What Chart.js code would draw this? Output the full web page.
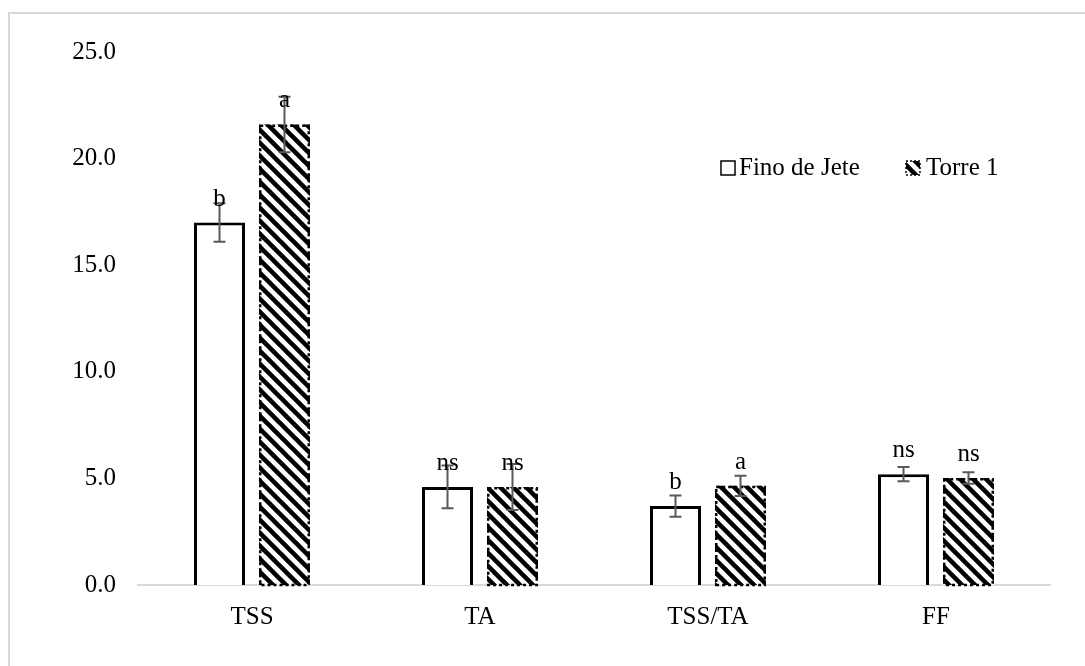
<!DOCTYPE html>
<html>
<head>
<meta charset="utf-8">
<script src="https://cdn.jsdelivr.net/npm/chart.js@4/dist/chart.umd.min.js"></script>
<style>
  html, body { margin: 0; padding: 0; background: #fff; overflow: hidden; }
  #chart { display: block; }
</style>
</head>
<body>
<canvas id="chart" width="1085" height="666"></canvas>
<script>
// 데이터
const categories = ['TSS', 'TA', 'TSS/TA', 'FF'];
const seriesNames = ['Fino de Jete', 'Torre 1'];
const finoValues = [17.0, 4.6, 3.7, 5.2];
const torreValues = [21.6, 4.6, 4.65, 5.02];
const finoErrors = [0.9, 1.0, 0.5, 0.33];
const torreErrors = [1.3, 1.08, 0.48, 0.27];
const finoLetters = ['b', 'ns', 'b', 'ns'];
const torreLetters = ['a', 'ns', 'a', 'ns'];
const yTicks = [0, 5, 10, 15, 20, 25];

const FONT = '"Liberation Serif", "Times New Roman", serif';
const FONT_SIZE = 25;

// 빗금 패턴
function makeHatch() {
    const s = 13;
    const c = document.createElement('canvas');
    c.width = s; c.height = s;
    const g = c.getContext('2d');
    g.fillStyle = '#fff';
    g.fillRect(0, 0, s, s);
    g.strokeStyle = '#000';
    g.lineWidth = 4.5;
    for (let k = -1; k <= 1; k++) {
        g.beginPath();
        g.moveTo(k * s - 2, -2);
        g.lineTo(k * s + s + 2, s + 2);
        g.stroke();
    }
    return document.getElementById('chart').getContext('2d').createPattern(c, 'repeat');
}
const hatch = makeHatch();

// 바깥 테두리
const framePlugin = {
    id: 'frame',
    beforeDraw(chart) {
        const ctx = chart.ctx;
        ctx.save();
        ctx.strokeStyle = '#d9d9d9';
        ctx.lineWidth = 2;
        ctx.strokeRect(9, 13, 2000, 2000);
        ctx.restore();
    }
};

// 점선 테두리, 오차 막대, 문자 표시
const extrasPlugin = {
    id: 'extras',
    afterDatasetsDraw(chart) {
        const ctx = chart.ctx;
        const y = chart.scales.y;
        const errs = [finoErrors, torreErrors];
        const vals = [finoValues, torreValues];
        const letters = [finoLetters, torreLetters];

        // Torre 1 점선 테두리
        const torreMeta = chart.getDatasetMeta(1);
        ctx.save();
        ctx.strokeStyle = '#000';
        ctx.lineWidth = 2.5;
        ctx.setLineDash([3, 3]);
        torreMeta.data.forEach(el => {
            const left = el.x - el.width / 2;
            ctx.strokeRect(left + 1.25, el.y + 1.25, el.width - 2.5, el.base - el.y - 1.25);
        });
        ctx.restore();

        // 오차 막대
        ctx.save();
        ctx.strokeStyle = '#595959';
        ctx.lineWidth = 2;
        [0, 1].forEach(d => {
            chart.getDatasetMeta(d).data.forEach((el, i) => {
                const top = y.getPixelForValue(vals[d][i] + errs[d][i]);
                const bot = y.getPixelForValue(vals[d][i] - errs[d][i]);
                ctx.beginPath();
                ctx.moveTo(el.x, top); ctx.lineTo(el.x, bot);
                ctx.moveTo(el.x - 6, top); ctx.lineTo(el.x + 6, top);
                ctx.moveTo(el.x - 6, bot); ctx.lineTo(el.x + 6, bot);
                ctx.stroke();
            });
        });
        ctx.restore();

        // 유의성 문자
        ctx.save();
        ctx.fillStyle = '#000';
        ctx.font = FONT_SIZE + 'px ' + FONT;
        ctx.textAlign = 'center';
        ctx.textBaseline = 'alphabetic';
        [0, 1].forEach(d => {
            chart.getDatasetMeta(d).data.forEach((el, i) => {
                ctx.fillText(letters[d][i], el.x, el.y - 17);
            });
        });
        ctx.restore();
    },
    afterDraw(chart) {
        // 범례
        const ctx = chart.ctx;
        ctx.save();
        ctx.font = FONT_SIZE + 'px ' + FONT;
        ctx.textBaseline = 'alphabetic';
        ctx.fillStyle = '#000';

        ctx.fillStyle = '#fff';
        ctx.fillRect(721, 161, 14, 14);
        ctx.strokeStyle = '#000';
        ctx.lineWidth = 1.5;
        ctx.strokeRect(721, 161, 14, 14);
        ctx.fillStyle = '#000';
        ctx.fillText(seriesNames[0], 739, 175);

        ctx.fillStyle = hatch;
        ctx.fillRect(906, 161, 14, 14);
        ctx.setLineDash([2, 2]);
        ctx.strokeRect(906, 161, 14, 14);
        ctx.setLineDash([]);
        ctx.fillStyle = '#000';
        ctx.fillText(seriesNames[1], 926, 175);
        ctx.restore();
    }
};

new Chart(document.getElementById('chart'), {
    type: 'bar',
    data: {
        labels: categories,
        datasets: [
            {
                label: seriesNames[0],
                data: finoValues,
                backgroundColor: '#ffffff',
                borderColor: '#000000',
                borderWidth: 3,
                categoryPercentage: 0.57,
                barPercentage: 0.785
            },
            {
                label: seriesNames[1],
                data: torreValues,
                backgroundColor: hatch,
                borderWidth: 0,
                categoryPercentage: 0.57,
                barPercentage: 0.785
            }
        ]
    },
    options: {
        responsive: false,
        animation: false,
        layout: { padding: { top: 52, right: 35, bottom: 0, left: 0 } },
        plugins: {
            legend: { display: false },
            tooltip: { enabled: false }
        },
        scales: {
            x: {
                grid: { display: false, drawTicks: false },
                border: { display: true, color: '#d9d9d9', width: 2 },
                ticks: {
                    color: '#000',
                    padding: 17,
                    font: { family: FONT, size: FONT_SIZE }
                },
                afterFit(axis) { axis.height = 81; }
            },
            y: {
                min: 0,
                max: 25,
                grid: { display: false, drawTicks: false },
                border: { display: false },
                afterBuildTicks(axis) { axis.ticks = yTicks.map(v => ({ value: v })); },
                ticks: {
                    color: '#000',
                    padding: 22,
                    font: { family: FONT, size: FONT_SIZE },
                    callback: v => Number(v).toFixed(1)
                },
                afterFit(axis) { axis.width = 138; }
            }
        }
    },
    plugins: [framePlugin, extrasPlugin]
});
</script>
</body>
</html>
